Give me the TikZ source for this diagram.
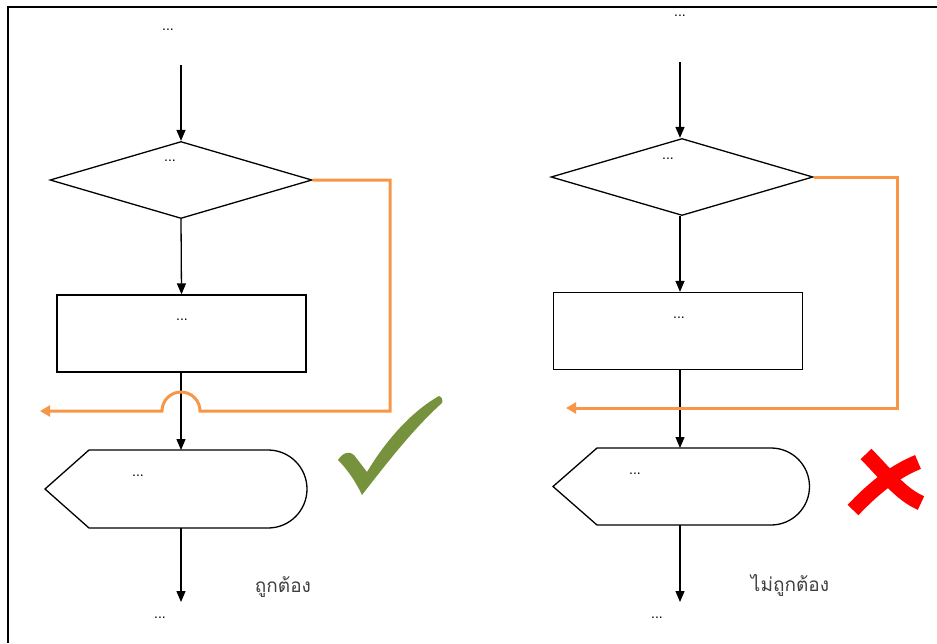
\documentclass[tikz,border=0pt]{standalone}
\usepackage{fontspec}
\setmainfont{Liberation Sans}
\newfontfamily\thaifont[Script=Thai]{Loma}
\usetikzlibrary{arrows.meta,shapes.geometric}
\definecolor{flow}{HTML}{F79646}
\definecolor{okgreen}{HTML}{76923C}
\definecolor{badred}{HTML}{FF0000}
\definecolor{lbl}{HTML}{404040}
\begin{document}
\begin{tikzpicture}[x=1pt,y=-1pt,
  dots/.style={font=\fontsize{14}{16}\selectfont,inner sep=0pt},
  decision/.style={draw,shape=diamond,line width=1.3pt,minimum width=#1,minimum height=77pt,inner sep=0pt},
  procbox/.style={draw,rectangle,line width=1.3pt,minimum width=249pt,minimum height=77pt,inner sep=0pt},
  shapeline/.style={draw,line width=1.3pt},
  conn/.style={draw,line width=1.3pt,-{Triangle[width=9pt,length=11pt]}},
  loopline/.style={draw=flow,line width=3pt,-{Triangle[width=11pt,length=10pt]}},
  verdict/.style={font=\thaifont\fontsize{19}{22}\selectfont,text=lbl,inner sep=0pt}]
\useasboundingbox (0,0) rectangle (937,643);
% frame
\draw[line width=2pt] (8,643) -- (8,7) -- (937,7);

% ================= left diagram =================
\node[dots] (ltop) at (168,30) {...};
\coordinate (lstart) at (181,65);
\node[decision=262pt] (ldec) at (181,180) {};
\node[dots] (ldect) at (170,161) {...};
\node[procbox] (lproc) at (181.5,333.5) {};
\node[dots] (lproct) at (182,320) {...};
% display shape
\coordinate (ldl) at (45,489);
\coordinate (ldtl) at (89,450);
\coordinate (ldtr) at (268,450);
\coordinate (ldbl) at (89,528);
\coordinate (ldtop) at (181,450);
\coordinate (ldbot) at (181,528);
\path[shapeline] (ldl) -- (ldtl) -- (ldtr) arc[start angle=90,end angle=-90,radius=39pt] -- (ldbl) -- cycle;
\node[dots] (ldispt) at (138,476) {...};
\coordinate (lend) at (181,602);
\node[dots] (lbot) at (160,618) {...};

\path[conn] (lstart) -- (ldec.north);
\path[conn] (ldec.south) -- (lproc.north);
\path[conn] (lproc.south -| ldtop) -- (ldtop);
\path[conn] (ldbot) -- (lend);

% loop with bridge
\coordinate (lc1) at (390,180);
\coordinate (lc2) at (390,411);
\coordinate (lb1) at (200,411);
\coordinate (lfree) at (40,411);
\path[loopline] (ldec.east) -- (lc1) -- (lc2) -- (lb1)
   arc[start angle=0,end angle=180,radius=19pt] -- (lfree);

% check mark
\fill[okgreen] (338,460) .. controls (343,452) and (350,451) .. (354,455)
  -- (367,472) .. controls (388,437) and (414,410) .. (439,396)
  .. controls (442,397) and (443,400) .. (442,403)
  .. controls (414,428) and (386,464) .. (362,495)
  .. controls (356,482) and (347,469) .. (338,460) -- cycle;

\node[verdict] (lver) at (283,587) {ถูกต้อง};

% ================= right diagram =================
\node[dots] (rtop) at (680,16) {...};
\coordinate (rstart) at (680,62);
\node[decision=262pt] (rdec) at (682,177) {};
\node[dots] (rdect) at (668,159) {...};
\node[procbox] (rproc) at (678,331) {};
\node[dots] (rproct) at (679,318) {...};
\coordinate (rdl) at (553,486.5);
\coordinate (rdtl) at (597,448);
\coordinate (rdtr) at (771,448);
\coordinate (rdbl) at (597,525);
\coordinate (rdtop) at (680,448);
\coordinate (rdbot) at (680,525);
\path[shapeline] (rdl) -- (rdtl) -- (rdtr) arc[start angle=90,end angle=-90,radius=38.5pt] -- (rdbl) -- cycle;
\node[dots] (rdispt) at (635,474) {...};
\coordinate (rend) at (680,602);
\node[dots] (rbot) at (657,618) {...};

\path[conn] (rstart) -- (rdec.north -| rstart);
\path[conn] (rdec.south -| rstart) -- (rproc.north -| rstart);
\path[conn] (rproc.south -| rdtop) -- (rdtop);
\path[conn] (rdbot) -- (rend);

\coordinate (rc1) at (897,177);
\coordinate (rc2) at (897,408);
\coordinate (rfree) at (566,408);
\path[loopline] (rdec.east) -- (rc1) -- (rc2) -- (rfree);

% cross
\draw[badred,line width=15pt,line cap=butt] (866,454) .. controls (886,474) and (900,494) .. (921,503);
\draw[badred,line width=15pt,line cap=butt] (918,462) .. controls (893,472) and (872,490) .. (853,510);

\node[verdict] (rver) at (790,585) {ไม่ถูกต้อง};
\end{tikzpicture}
\end{document}
